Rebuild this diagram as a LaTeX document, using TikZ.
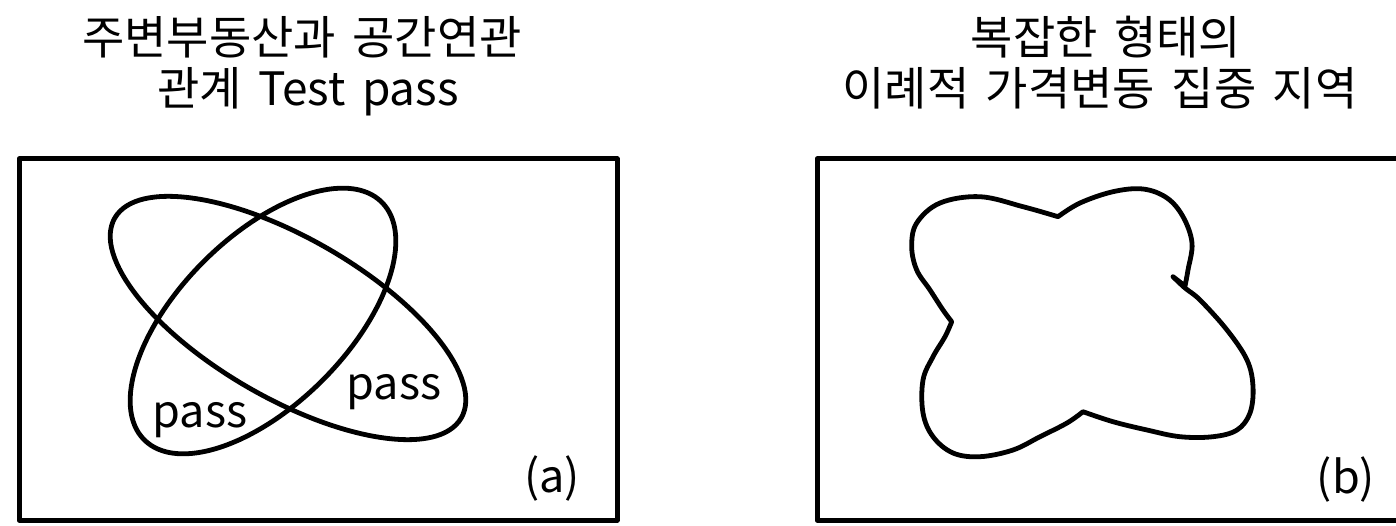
\documentclass[tikz,border=0pt]{standalone}
\usepackage{fontspec}
\setmainfont{Noto Sans CJK KR}[WordSpace=1.6]
\begin{document}
\begin{tikzpicture}[x=1pt,y=-1pt,line join=round,line cap=round]
\tikzset{
  frame/.style={line width=5pt},
  curve/.style={line width=4.8pt},
  title/.style={font=\fontsize{46}{54}\selectfont,anchor=base,inner sep=0pt},
  lbl/.style={font=\fontsize{45}{54}\selectfont,anchor=base,inner sep=0pt}
}
\useasboundingbox (0,0) rectangle (1396,526);
% titles
\node[title] (t1a) at (302,55) {주변부동산과 공간연관};
\node[title] (t1b) at (308,106) {관계 Test pass};
\node[title] (t2a) at (1106,55) {복잡한 형태의};
\node[title] (t2b) at (1100,106) {이례적 가격변동 집중 지역};
% frames
\draw[frame] (19,159) rectangle (617,520);
\draw[frame] (1396,159) -- (817,159) -- (817,520) -- (1396,520);
% panel (a)
\draw[curve,rotate around={-30:(288,318)}] (288,318) ellipse [x radius=200pt,y radius=80pt];
\draw[curve,rotate around={45:(263,321)}] (263,321) ellipse [x radius=168pt,y radius=84pt];
\node[lbl] (p1) at (200,427) {pass};
\node[lbl] (p2) at (394,399) {pass};
\node[lbl] (la) at (552,492) {(a)};
% panel (b)
\draw[curve]
  plot[smooth,tension=0.6] coordinates {(951.7,321.7) (943,310) (930,290) (916.7,270) (911.7,246.7) (916.7,223) (940,203) (980,196.7) (1023,206.7) (1058,216.7)}
  -- plot[smooth,tension=0.6] coordinates {(1058,216.7) (1080,203) (1113,191.7) (1143,189) (1167,198) (1183,216.7) (1192,243) (1188,270) (1185,286)}
  -- (1173,276.7)
  -- plot[smooth,tension=0.6] coordinates {(1173,276.7) (1185,288) (1200,300) (1227,330) (1247,360) (1253,386.7) (1250,413) (1237,430) (1213,436.7) (1180,436.7) (1147,430) (1113,421.7) (1083,411.7)}
  -- plot[smooth,tension=0.6] coordinates {(1083,411.7) (1067,423) (1040,436.7) (1013,450) (980,456.7) (953,453) (933,436.7) (923,413) (923,380) (933,356.7) (945,336.7) (951.7,321.7)}
  -- cycle;
\node[lbl] (lb) at (1346,493) {(b)};
\end{tikzpicture}
\end{document}
